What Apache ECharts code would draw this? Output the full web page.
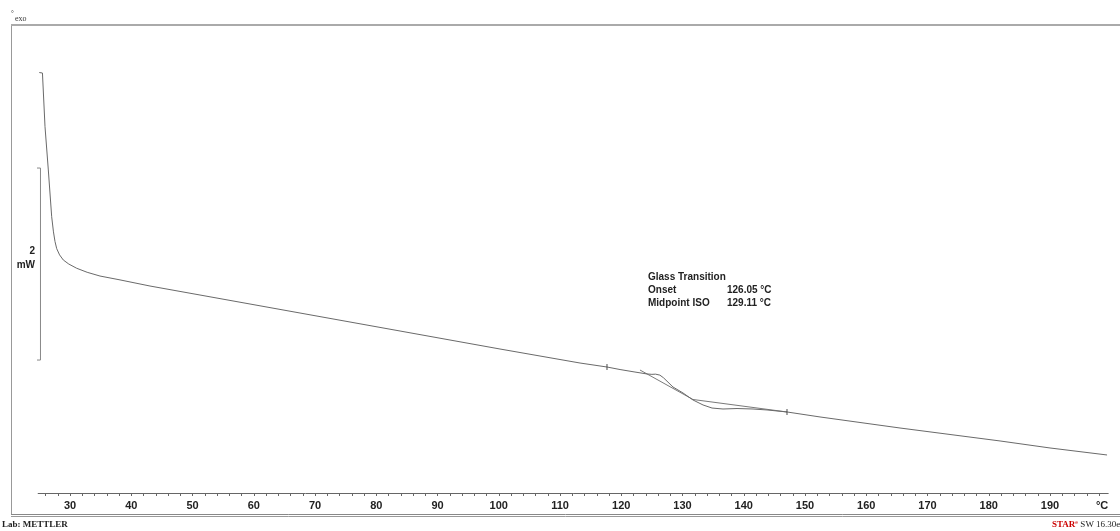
<!DOCTYPE html>
<html>
<head>
<meta charset="utf-8">
<script src="https://cdn.jsdelivr.net/npm/echarts@6/dist/echarts.min.js"></script>
<style>
html,body{margin:0;padding:0;background:#fff;}
#chart{width:1120px;height:531px;}
</style>
</head>
<body>
<div id="chart"></div>
<script>
// ---- data (temperature in °C, heat flow in mW, arbitrary offset) ----
const curveT = [24.98, 25.5, 25.64, 25.92, 26.46, 27.01, 27.3, 27.55, 27.83, 28.3, 28.91, 29.8, 31.09, 32.8, 34.9, 38.0, 43.06, 51.22, 67.55, 83.88, 100.2, 113.27, 117.67, 119.8, 122.24, 124.2, 125.0, 125.6, 126.3, 126.9, 128.45, 130.08, 131.71, 133.35, 134.82, 136.61, 138.9, 141.51, 143.8, 147.06, 152.45, 165.51, 181.84, 190.0, 199.31];
const curveMW = [4.38, 4.375, 4.365, 3.816, 3.365, 2.878, 2.72, 2.62, 2.545, 2.48, 2.427, 2.385, 2.341, 2.299, 2.26, 2.222, 2.156, 2.0625, 1.875, 1.6875, 1.5, 1.354, 1.3125, 1.286, 1.26, 1.24, 1.236, 1.238, 1.228, 1.2, 1.104, 1.042, 0.969, 0.917, 0.885, 0.875, 0.88, 0.875, 0.865, 0.844, 0.792, 0.677, 0.542, 0.469, 0.396];
// tangent construction (inflection tangent + post-transition baseline)
const tangentT = [123.06, 131.71, 147.06];
const tangentMW = [1.281, 0.974, 0.844];
// evaluation limits
const limitT = [117.67, 147.06];
const limitMW = [1.3125, 0.844];
// scale bar: 2 mW
const scaleBarValue = 2;
const scaleBarBase = 1.385;
const scaleBarT = [24.56, 25.18];
// axis ticks / labels
const tickValues = [26,28,30,32,34,36,38,40,42,44,46,48,50,52,54,56,58,60,62,64,66,68,70,72,74,76,78,80,82,84,86,88,90,92,94,96,98,100,102,104,106,108,110,112,114,116,118,120,122,124,126,128,130,132,134,136,138,140,142,144,146,148,150,152,154,156,158,160,162,164,166,168,170,172,174,176,178,180,182,184,186,188,190,192,194,196,198];
const labelValues = [30,40,50,60,70,80,90,100,110,120,130,140,150,160,170,180,190];
const unitLabelPos = 198.5;
const unitLabel = '°C';
const resultTitle = 'Glass Transition';
const resultNames = ['Onset', 'Midpoint ISO'];
const resultValues = ['126.05 °C', '129.11 °C'];

const zip = (a, b) => a.map((v, i) => [v, b[i]]);
const lineColor = '#6a6a6a';
const bold10 = 'bold 10px "Liberation Sans", Arial, sans-serif';

const chart = echarts.init(document.getElementById('chart'), null, {renderer: 'canvas'});
const option = {
  animation: false,
  backgroundColor: '#fff',
  grid: {left: 38.15, right: 11.8, top: 25, bottom: 38},
  xAxis: {
    type: 'value', min: 24.8, max: 199.5,
    axisLine: {show: true, onZero: false, lineStyle: {color: '#666', width: 1}},
    axisTick: {show: true, customValues: tickValues, length: 3, lineStyle: {color: '#666', width: 1}},
    axisLabel: {
      show: true, customValues: labelValues.concat([unitLabelPos]), margin: 7,
      formatter: v => (v === unitLabelPos ? unitLabel : String(v)),
      fontFamily: '"Liberation Sans", Arial, sans-serif', fontWeight: 'bold', fontSize: 11, color: '#222'
    },
    splitLine: {show: false}
  },
  yAxis: {type: 'value', min: 0, max: 4.875, show: false},
  series: [
    {type: 'line', data: zip(curveT, curveMW), showSymbol: false, symbol: 'none',
     smooth: false, lineStyle: {color: lineColor, width: 1}, z: 3},
    {type: 'line', data: zip(tangentT, tangentMW), showSymbol: false, symbol: 'none',
     lineStyle: {color: '#7a7a7a', width: 1}, z: 2},
    {type: 'scatter', data: zip(limitT, limitMW), symbol: 'rect', symbolSize: [1.2, 6],
     itemStyle: {color: '#444'}, z: 4},
    {type: 'line', clip: false,
     data: [[scaleBarT[0], scaleBarBase + scaleBarValue], [scaleBarT[1], scaleBarBase + scaleBarValue],
            [scaleBarT[1], scaleBarBase], [scaleBarT[0], scaleBarBase]],
     showSymbol: false, symbol: 'none', lineStyle: {color: '#888', width: 1}, z: 2}
  ],
  graphic: [
    // frame
    {type: 'line', shape: {x1: 11.5, y1: 24, x2: 11.5, y2: 515}, style: {stroke: '#999', lineWidth: 1}, silent: true},
    {type: 'rect', shape: {x: 11, y: 24, width: 1109, height: 2}, style: {fill: '#aaa'}, silent: true},
    {type: 'line', shape: {x1: 11, y1: 514.5, x2: 1120, y2: 514.5}, style: {stroke: '#888', lineWidth: 1}, silent: true},
    {type: 'line', shape: {x1: 11, y1: 516.5, x2: 1120, y2: 516.5}, style: {stroke: '#999', lineWidth: 1}, silent: true},
    // exo marker
    {type: 'text', left: 11, top: 10, style: {text: '°', font: '7px "Liberation Serif", serif', fill: '#333'}},
    {type: 'text', left: 15, top: 15, style: {text: 'exo', font: '8px "Liberation Serif", serif', fill: '#333'}},
    // scale label
    {type: 'text', right: 1085, top: 246, style: {text: String(scaleBarValue), font: bold10, fill: '#222', align: 'right'}},
    {type: 'text', right: 1085, top: 260, style: {text: 'mW', font: bold10, fill: '#222', align: 'right'}},
    // results
    {type: 'text', left: 648, top: 272, style: {text: resultTitle, font: bold10, fill: '#222'}},
    {type: 'text', left: 648, top: 285, style: {text: resultNames[0], font: bold10, fill: '#222'}},
    {type: 'text', left: 727, top: 285, style: {text: resultValues[0], font: bold10, fill: '#222'}},
    {type: 'text', left: 648, top: 298, style: {text: resultNames[1], font: bold10, fill: '#222'}},
    {type: 'text', left: 727, top: 298, style: {text: resultValues[1], font: bold10, fill: '#222'}},
    // footer
    {type: 'text', left: 2, top: 520, style: {text: 'Lab: METTLER', font: 'bold 9px "Liberation Serif", serif', fill: '#222'}},
    {type: 'text', left: 1052, top: 520, style: {
      text: '{r|STAR}{s|e} SW 16.30e', font: '9px "Liberation Serif", serif', fill: '#222',
      rich: {r: {fill: '#c00', font: 'bold 9px "Liberation Serif", serif'}, s: {fill: '#c00', fontSize: 5, verticalAlign: 'top'}}
    }}
  ]
};
chart.setOption(option);
</script>
</body>
</html>
